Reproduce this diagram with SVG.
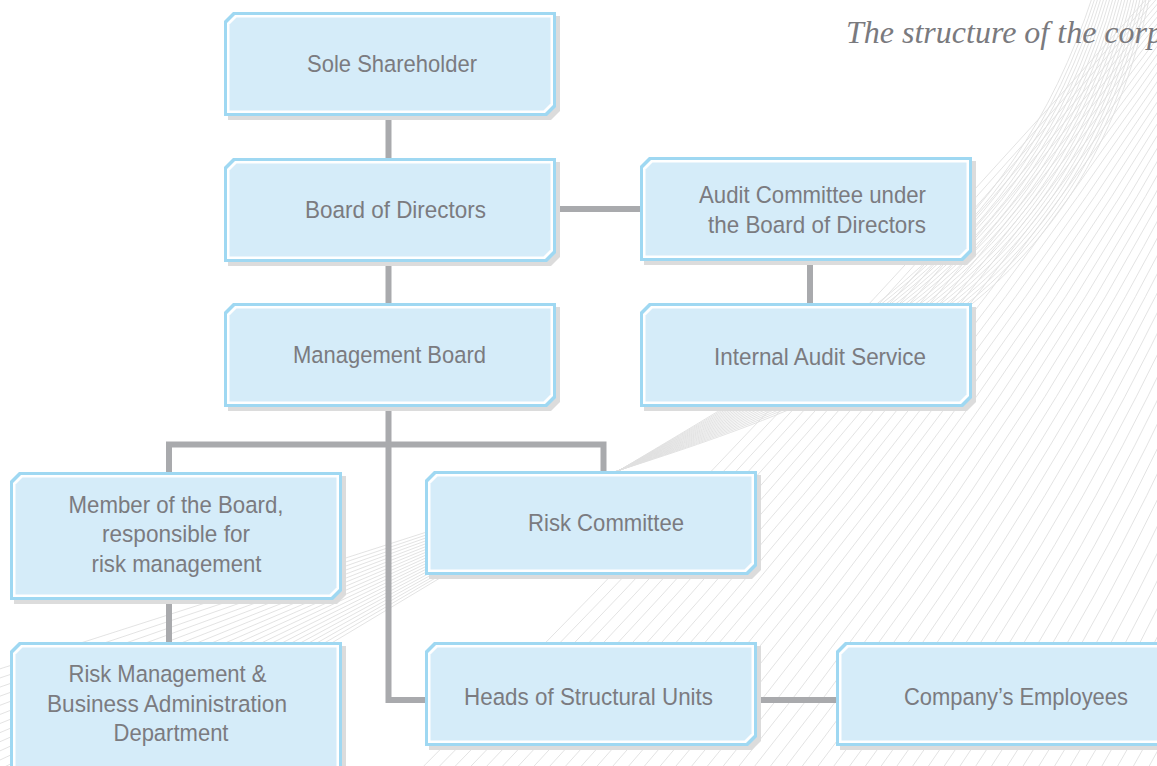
<svg xmlns="http://www.w3.org/2000/svg" xmlns:xlink="http://www.w3.org/1999/xlink" width="1157" height="766" viewBox="0 0 1157 766">
  <style>
    .bg { fill: none; stroke: #e0e0e0; stroke-width: 0.9; }
    .sh { fill: #dcdcdc; }
    .bd { fill: #9fd8f2; }
    .wh { fill: #ffffff; }
    .fl { fill: #d5ecf9; }
    .cn { fill: none; stroke: #a9aaad; stroke-width: 6; }
    .t { font-family: "Liberation Sans", Arial, sans-serif; font-size: 24.5px; fill: #7b7b80; text-anchor: middle; }
    .title { font-family: "Liberation Serif", "Times New Roman", serif; font-style: italic; font-size: 32px; fill: #7a7a7e; }
  </style>
  <defs>
    <!-- bevelled box, 332 x 104 -->
    <g id="b332">
      <polygon class="sh" points="13,4 336,4 336,99 327,108 4,108 4,13"/>
      <polygon class="bd" points="9,0 332,0 332,95 323,104 0,104 0,9"/>
      <polygon class="wh" points="11,3 329,3 329,93 321,101 3,101 3,11"/>
      <polygon class="fl" points="12.5,5.5 326.5,5.5 326.5,91.5 319.5,98.5 5.5,98.5 5.5,12.5"/>
    </g>
    <!-- bevelled box, 332 x 128 -->
    <g id="b332t">
      <polygon class="sh" points="13,4 336,4 336,123 327,132 4,132 4,13"/>
      <polygon class="bd" points="9,0 332,0 332,119 323,128 0,128 0,9"/>
      <polygon class="wh" points="11,3 329,3 329,117 321,125 3,125 3,11"/>
      <polygon class="fl" points="12.5,5.5 326.5,5.5 326.5,115.5 319.5,122.5 5.5,122.5 5.5,12.5"/>
    </g>
    <!-- bevelled box, 332 x 150 (runs off the bottom edge) -->
    <g id="b332x">
      <polygon class="sh" points="13,4 336,4 336,145 327,154 4,154 4,13"/>
      <polygon class="bd" points="9,0 332,0 332,141 323,150 0,150 0,9"/>
      <polygon class="wh" points="11,3 329,3 329,139 321,147 3,147 3,11"/>
      <polygon class="fl" points="12.5,5.5 326.5,5.5 326.5,137.5 319.5,144.5 5.5,144.5 5.5,12.5"/>
    </g>
    <!-- bevelled box, 360 x 104 (runs off the right edge) -->
    <g id="b360">
      <polygon class="sh" points="13,4 364,4 364,99 355,108 4,108 4,13"/>
      <polygon class="bd" points="9,0 360,0 360,95 351,104 0,104 0,9"/>
      <polygon class="wh" points="11,3 357,3 357,93 349,101 3,101 3,11"/>
      <polygon class="fl" points="12.5,5.5 354.5,5.5 354.5,91.5 347.5,98.5 5.5,98.5 5.5,12.5"/>
    </g>
  </defs>

  <rect width="1157" height="766" fill="#ffffff"/>

  <!-- decorative background: fan of fine lines -->
  <g id="background" class="bg">
    <path d="M-180,950 L620,470 C834.4,341.4 1010,250 1093,-5"/>
    <path d="M-180,938.2 L620,470 C835.8,343.7 1014,253 1096,-5"/>
    <path d="M-180,926.5 L620,470 C837.1,346.1 1018,256 1099,-5"/>
    <path d="M-180,914.7 L620,470 C838.5,348.5 1022,259 1102,-5"/>
    <path d="M-180,903 L620,470 C839.9,351 1026,262 1105,-5"/>
    <path d="M-180,891.2 L620,470 C841.2,353.5 1030,265 1108,-5"/>
    <path d="M-180,879.4 L620,470 C842.6,356.1 1034,268 1111,-5"/>
    <path d="M-180,867.7 L620,470 C843.9,358.7 1038,271 1114,-5"/>
    <path d="M-180,855.9 L620,470 C845.2,361.4 1042,274 1117,-5"/>
    <path d="M-180,844.2 L620,470 C846.4,364.1 1046,277 1120,-5"/>
    <path d="M-180,832.4 L620,470 C847.7,366.8 1050,280 1123,-5"/>
    <path d="M-180,820.6 L620,470 C849,369.6 1054,283 1126,-5"/>
    <path d="M-180,808.9 L620,470 C850.2,372.5 1058,286 1129,-5"/>
    <path d="M-180,797.1 L620,470 C851.4,375.4 1062,289 1132,-5"/>
    <path d="M-180,785.4 L620,470 C852.6,378.3 1066,292 1135,-5"/>
    <path d="M-180,773.6 L620,470 C853.7,381.3 1070,295 1138,-5"/>
    <path d="M-180,761.8 L620,470 C854.9,384.3 1074,298 1141,-5"/>
    <path d="M-180,750.1 L620,470 C856,387.4 1078,301 1144,-5"/>
    <path d="M-180,738.3 L620,470 C857,390.5 1082,304 1147,-5"/>
    <path d="M-180,726.6 L620,470 C858.1,393.6 1086,307 1150,-5"/>
    <path d="M400,790 Q790,400 1150,-5"/>
    <path d="M416,790 Q802.3,400 1155,-5"/>
    <path d="M432,790 Q814.7,400 1160,-5"/>
    <path d="M448,790 Q827,400 1165,-5"/>
    <path d="M464,790 Q839.4,400 1170,-5"/>
    <path d="M480,790 Q851.7,400 1175,-5"/>
    <path d="M496,790 Q864,400 1180,-5"/>
    <path d="M512,790 Q876.4,400 1185,-5"/>
    <path d="M528,790 Q888.7,400 1190,-5"/>
    <path d="M544,790 Q901.1,400 1195,-5"/>
    <path d="M560,790 Q913.4,400 1200,-5"/>
    <path d="M576,790 Q925.7,400 1205,-5"/>
    <path d="M592,790 Q938.1,400 1210,-5"/>
    <path d="M608,790 Q950.4,400 1215,-5"/>
    <path d="M624,790 Q962.8,400 1220,-5"/>
    <path d="M640,790 Q975.1,400 1225,-5"/>
    <path d="M656,790 Q987.4,400 1230,-5"/>
    <path d="M672,790 Q999.8,400 1235,-5"/>
    <path d="M688,790 Q1012.1,400 1240,-5"/>
    <path d="M704,790 Q1024.5,400 1245,-5"/>
    <path d="M720,790 Q1036.8,400 1250,-5"/>
    <path d="M736,790 Q1049.1,400 1255,-5"/>
    <path d="M752,790 Q1061.5,400 1260,-5"/>
    <path d="M768,790 Q1073.8,400 1265,-5"/>
    <path d="M784,790 Q1086.2,400 1270,-5"/>
    <path d="M800,790 Q1098.5,400 1275,-5"/>
    <path d="M816,790 Q1110.8,400 1280,-5"/>
    <path d="M832,790 Q1123.2,400 1285,-5"/>
    <path d="M848,790 Q1135.5,400 1290,-5"/>
    <path d="M864,790 Q1147.9,400 1295,-5"/>
    <path d="M880,790 Q1160.2,400 1300,-5"/>
    <path d="M896,790 Q1172.5,400 1305,-5"/>
    <path d="M912,790 Q1184.9,400 1310,-5"/>
    <path d="M928,790 Q1197.2,400 1315,-5"/>
    <path d="M944,790 Q1209.6,400 1320,-5"/>
    <path d="M960,790 Q1221.9,400 1325,-5"/>
    <path d="M976,790 Q1234.2,400 1330,-5"/>
    <path d="M992,790 Q1246.6,400 1335,-5"/>
    <path d="M1008,790 Q1258.9,400 1340,-5"/>
    <path d="M1024,790 Q1271.3,400 1345,-5"/>
    <path d="M1040,790 Q1283.6,400 1350,-5"/>
    <path d="M1056,790 Q1295.9,400 1355,-5"/>
    <path d="M1072,790 Q1308.3,400 1360,-5"/>
    <path d="M1088,790 Q1320.6,400 1365,-5"/>
    <path d="M1104,790 Q1333,400 1370,-5"/>
    <path d="M1120,790 Q1345.3,400 1375,-5"/>
    <path d="M1136,790 Q1357.6,400 1380,-5"/>
  </g>

  <text class="title" x="846" y="43">The structure of the corp</text>

  <!-- connectors -->
  <g id="connectors" class="cn">
    <path d="M388.5,116 V158"/>
    <path d="M556,209 H640"/>
    <path d="M388.5,262 V303"/>
    <path d="M810,261 V303"/>
    <path d="M388.5,407 V700 H425"/>
    <path d="M169,472 V444.5 H603.5 V471"/>
    <path d="M169,600 V642"/>
    <path d="M758,700 H836"/>
  </g>

  <!-- nodes -->
  <g id="sole-shareholder">
    <use xlink:href="#b332" x="224" y="12"/>
    <text class="t" x="392" y="72" textLength="170" lengthAdjust="spacingAndGlyphs">Sole Shareholder</text>
  </g>
  <g id="board-of-directors">
    <use xlink:href="#b332" x="224" y="158"/>
    <text class="t" x="395.5" y="218" textLength="181" lengthAdjust="spacingAndGlyphs">Board of Directors</text>
  </g>
  <g id="audit-committee">
    <use xlink:href="#b332" x="640" y="157"/>
    <text class="t" x="812.5" y="203" textLength="227" lengthAdjust="spacingAndGlyphs">Audit Committee under</text>
    <text class="t" x="817" y="233" textLength="218" lengthAdjust="spacingAndGlyphs">the Board of Directors</text>
  </g>
  <g id="management-board">
    <use xlink:href="#b332" x="224" y="303"/>
    <text class="t" x="389.5" y="363" textLength="193" lengthAdjust="spacingAndGlyphs">Management Board</text>
  </g>
  <g id="internal-audit-service">
    <use xlink:href="#b332" x="640" y="303"/>
    <text class="t" x="820" y="365" textLength="212" lengthAdjust="spacingAndGlyphs">Internal Audit Service</text>
  </g>
  <g id="board-member-risk">
    <use xlink:href="#b332t" x="10" y="472"/>
    <text class="t" x="176" y="513" textLength="215" lengthAdjust="spacingAndGlyphs">Member of the Board,</text>
    <text class="t" x="176" y="542" textLength="148" lengthAdjust="spacingAndGlyphs">responsible for</text>
    <text class="t" x="176.5" y="572" textLength="170" lengthAdjust="spacingAndGlyphs">risk management</text>
  </g>
  <g id="risk-committee">
    <use xlink:href="#b332" x="425" y="471"/>
    <text class="t" x="606" y="531" textLength="156" lengthAdjust="spacingAndGlyphs">Risk Committee</text>
  </g>
  <g id="risk-management-department">
    <use xlink:href="#b332x" x="10" y="642"/>
    <text class="t" x="167.5" y="682" textLength="198" lengthAdjust="spacingAndGlyphs">Risk Management &amp;</text>
    <text class="t" x="167" y="712" textLength="240" lengthAdjust="spacingAndGlyphs">Business Administration</text>
    <text class="t" x="171" y="741" textLength="115" lengthAdjust="spacingAndGlyphs">Department</text>
  </g>
  <g id="heads-of-units">
    <use xlink:href="#b332" x="425" y="642"/>
    <text class="t" x="588.5" y="705" textLength="249" lengthAdjust="spacingAndGlyphs">Heads of Structural Units</text>
  </g>
  <g id="employees">
    <use xlink:href="#b360" x="836" y="642"/>
    <text class="t" x="1016" y="705" textLength="224" lengthAdjust="spacingAndGlyphs">Company’s Employees</text>
  </g>
</svg>
